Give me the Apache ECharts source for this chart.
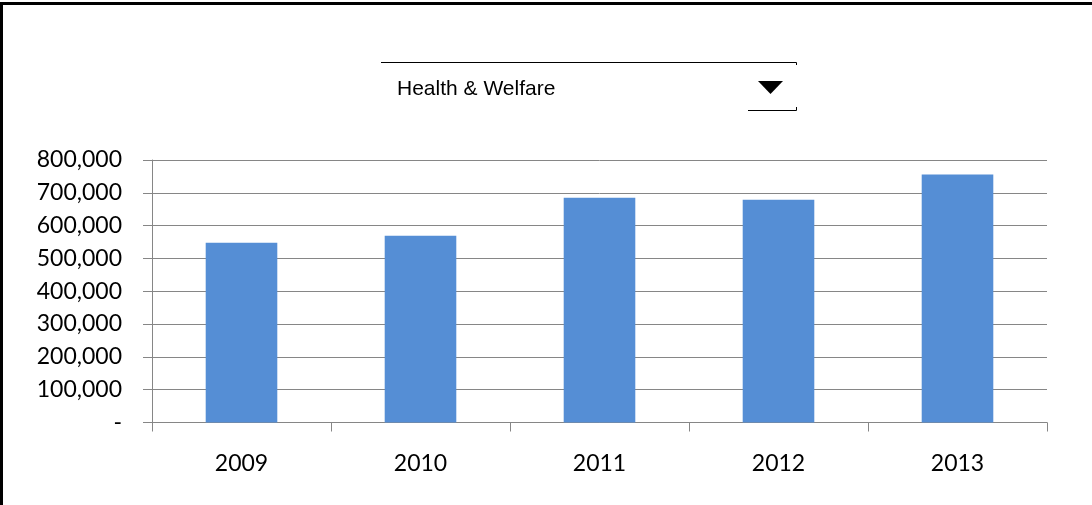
<!DOCTYPE html>
<html>
<head>
<meta charset="utf-8">
<script src="https://cdn.jsdelivr.net/npm/echarts@6/dist/echarts.min.js"></script>
<style>
html,body{margin:0;padding:0;background:#fff;}
#chart{width:1092px;height:505px;}
</style>
</head>
<body>
<div id="chart"></div>
<script>
const categories = ['2009', '2010', '2011', '2012', '2013'];
const values = [548000, 569000, 685000, 679000, 756000];
const selectorLabel = 'Health & Welfare';
const yMax = 800000;
const yStep = 100000;

const chart = echarts.init(document.getElementById('chart'), null, {renderer: 'canvas'});
const fontFamily = 'Lato, "Open Sans", sans-serif';
chart.setOption({
  animation: false,
  backgroundColor: '#ffffff',
  grid: {left: 152, right: 45, top: 160, bottom: 82.5, containLabel: false},
  xAxis: {
    type: 'category',
    data: categories,
    boundaryGap: true,
    axisLine: {show: true, lineStyle: {color: '#868686', width: 1}},
    axisTick: {show: true, length: 9, alignWithLabel: false, lineStyle: {color: '#868686'}},
    axisLabel: {color: '#000', fontFamily: fontFamily, fontSize: 23, margin: 30}
  },
  yAxis: {
    type: 'value',
    min: 0,
    max: yMax,
    interval: yStep,
    axisLine: {show: true, lineStyle: {color: '#868686', width: 1}},
    axisTick: {show: true, length: 9, lineStyle: {color: '#868686'}},
    splitLine: {show: true, lineStyle: {color: '#868686', width: 1}},
    axisLabel: {
      color: '#000', fontFamily: fontFamily, fontSize: 23, margin: 30,
      formatter: function (v) { return v === 0 ? '-' : v.toLocaleString('en-US'); }
    }
  },
  series: [{
    type: 'bar',
    data: values,
    barWidth: '40%',
    itemStyle: {color: '#558ED5'}
  }],
  graphic: [
    {type: 'rect', shape: {x: 0, y: 2, width: 1092, height: 3}, style: {fill: '#000'}},
    {type: 'rect', shape: {x: 0, y: 2, width: 3, height: 503}, style: {fill: '#000'}},
    {type: 'polyline', shape: {points: [[381, 62.5], [796.5, 62.5], [796.5, 65]]}, style: {stroke: '#000', lineWidth: 1, fill: null}},
    {type: 'polyline', shape: {points: [[748, 110.5], [796.5, 110.5], [796.5, 107]]}, style: {stroke: '#000', lineWidth: 1, fill: null}},
    {type: 'polygon', shape: {points: [[758, 81], [783, 81], [770.5, 94]]}, style: {fill: '#000'}},
    {type: 'text', x: 397, y: 89.5, style: {text: selectorLabel, font: '21px "Liberation Sans", Arial, sans-serif', fill: '#000', textVerticalAlign: 'middle', verticalAlign: 'middle'}}
  ]
});
</script>
</body>
</html>
